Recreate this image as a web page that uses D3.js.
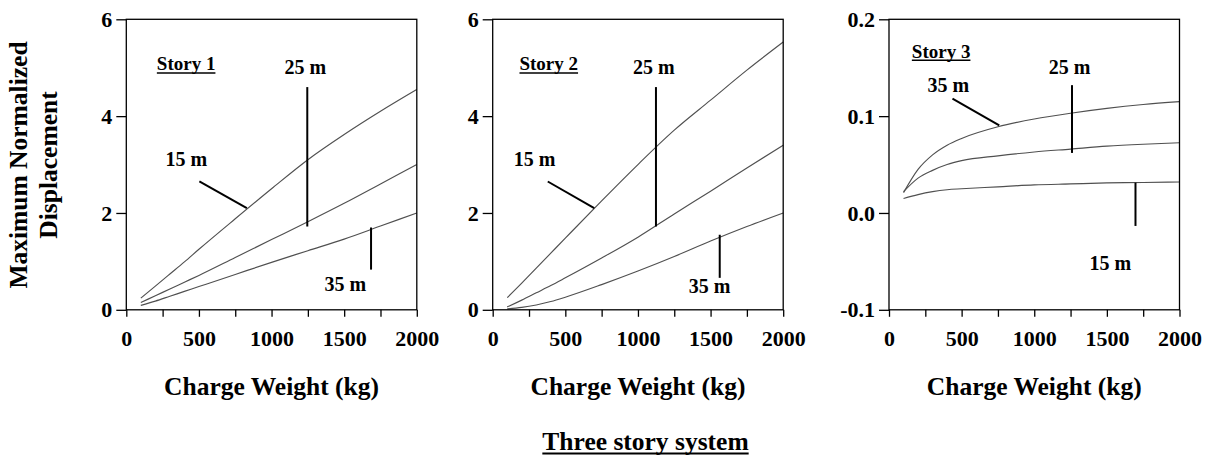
<!DOCTYPE html>
<html>
<head>
<meta charset="utf-8">
<script src="https://cdn.jsdelivr.net/npm/d3@7"></script>
<style>
  html, body { margin: 0; padding: 0; background: #fff; }
  svg text { font-family: "Liberation Serif", "Times New Roman", serif; font-weight: bold; fill: #000; }
</style>
</head>
<body>
<svg id="chart" width="1213" height="457"></svg>
<script>
// Charge weights (kg) at which the displacements are sampled
const chargeWeights = [100, 200, 300, 400, 500, 750, 1000, 1250, 1500, 1750, 2000];

// Maximum normalized displacement, story 1
const story1_15m = [0.24, 0.49, 0.74, 0.99, 1.25, 1.88, 2.50, 3.10, 3.62, 4.10, 4.55];
const story1_25m = [0.15, 0.29, 0.43, 0.57, 0.71, 1.08, 1.45, 1.82, 2.20, 2.60, 3.00];
const story1_35m = [0.09, 0.18, 0.28, 0.38, 0.48, 0.73, 0.98, 1.22, 1.46, 1.73, 2.00];

// Story 2
const story2_15m = [0.25, 0.55, 0.86, 1.17, 1.48, 2.25, 3.00, 3.71, 4.33, 4.95, 5.53];
const story2_25m = [0.06, 0.20, 0.35, 0.50, 0.66, 1.07, 1.50, 1.98, 2.45, 2.93, 3.40];
const story2_35m = [0.02, 0.05, 0.10, 0.17, 0.26, 0.52, 0.80, 1.10, 1.42, 1.72, 2.00];

// Story 3
const story3_15m = [0.015, 0.019, 0.022, 0.024, 0.025, 0.027, 0.029, 0.030, 0.031, 0.0315, 0.032];
const story3_25m = [0.022, 0.036, 0.044, 0.050, 0.054, 0.059, 0.063, 0.066, 0.069, 0.071, 0.0725];
const story3_35m = [0.021, 0.045, 0.060, 0.070, 0.077, 0.089, 0.097, 0.103, 0.108, 0.112, 0.115];

// Axis ticks
const xTickValues = [0, 250, 500, 750, 1000, 1250, 1500, 1750, 2000];
const xTickLabels = ["0", "", "500", "", "1000", "", "1500", "", "2000"];
const yTicks12 = [0, 2, 4, 6];
const yTickLabels12 = ["0", "2", "4", "6"];
const yTicks3 = [-0.1, 0.0, 0.1, 0.2];
const yTickLabels3 = ["-0.1", "0.0", "0.1", "0.2"];

// Panel titles and text
const panelTitles = ["Story 1", "Story 2", "Story 3"];
const xAxisTitle = "Charge Weight (kg)";
const yAxisTitle = ["Maximum Normalized", "Displacement"];
const figureTitle = "Three story system";

// Curve labels: [text, x, y] in data units (label anchor)
const labels1 = [["25 m", 1232, 4.88], ["15 m", 413, 2.97], ["35 m", 1508, 0.38]];
const labels2 = [["25 m", 1109, 4.88], ["15 m", 289, 2.97], ["35 m", 1493, 0.345]];
const labels3 = [["25 m", 1244, 0.1433], ["35 m", 409, 0.125], ["15 m", 1524, -0.0588]];

// Leader lines: [x1, y1, x2, y2] in data units
const leaders1 = [[503, 2.65, 830, 2.10], [1246, 4.60, 1246, 1.72], [1685, 1.70, 1685, 0.83]];
const leaders2 = [[379, 2.65, 699, 2.10], [1124, 4.60, 1124, 1.72], [1563, 1.55, 1563, 0.66]];
const leaders3 = [[437, 0.118, 759, 0.0904], [1260, 0.132, 1260, 0.062], [1697, 0.0313, 1697, -0.0134]];

// Story title anchors (data units)
const titlePos = [[412, 4.95], [386, 4.95], [359, 0.1605]];

const panels = [
  { series: [story1_15m, story1_25m, story1_35m], yDomain: [0, 6], yTicks: yTicks12, yLabels: yTickLabels12, labels: labels1, leaders: leaders1 },
  { series: [story2_15m, story2_25m, story2_35m], yDomain: [0, 6], yTicks: yTicks12, yLabels: yTickLabels12, labels: labels2, leaders: leaders2 },
  { series: [story3_15m, story3_25m, story3_35m], yDomain: [-0.1, 0.2], yTicks: yTicks3, yLabels: yTickLabels3, labels: labels3, leaders: leaders3 }
];

const svg = d3.select("#chart");
const panelLeft = [126.3, 492.7, 889];
const panelTop = 19.3;
const panelSize = 290.5;

panels.forEach((p, i) => {
  const g = svg.append("g").attr("transform", `translate(${panelLeft[i]},${panelTop})`);
  const x = d3.scaleLinear().domain([0, 2000]).range([0, panelSize]);
  const y = d3.scaleLinear().domain(p.yDomain).range([panelSize, 0]);

  // curves
  const line = d3.line()
    .x((d, k) => x(chargeWeights[k]))
    .y(d => y(d))
    .curve(d3.curveMonotoneX);
  p.series.forEach(s => {
    g.append("path").datum(s)
      .attr("d", line)
      .attr("fill", "none")
      .attr("stroke", "#505050")
      .attr("stroke-width", 1.15);
  });

  // frame
  g.append("rect")
    .attr("x", 0).attr("y", 0)
    .attr("width", panelSize).attr("height", panelSize)
    .attr("fill", "none").attr("stroke", "#000").attr("stroke-width", 1.3);

  // y axis
  const ya = g.append("g").call(
    d3.axisLeft(y).tickValues(p.yTicks).tickSize(10).tickSizeOuter(0).tickPadding(4)
      .tickFormat((d, k) => p.yLabels[k])
  );
  ya.select(".domain").remove();
  ya.selectAll("line").attr("stroke-width", 1.3);
  ya.selectAll("text").style("font-size", "22px");

  // x axis
  const xa = g.append("g").attr("transform", `translate(0,${panelSize})`).call(
    d3.axisBottom(x).tickValues(xTickValues).tickSize(7).tickSizeOuter(0).tickPadding(14)
      .tickFormat((d, k) => xTickLabels[k])
  );
  xa.select(".domain").remove();
  xa.selectAll("line").attr("stroke-width", 1.3);
  xa.selectAll("text").style("font-size", "22px");

  // leader lines
  p.leaders.forEach(l => {
    g.append("line")
      .attr("x1", x(l[0])).attr("y1", y(l[1]))
      .attr("x2", x(l[2])).attr("y2", y(l[3]))
      .attr("stroke", "#000").attr("stroke-width", 2);
  });

  // curve labels
  p.labels.forEach(l => {
    g.append("text")
      .attr("x", x(l[1])).attr("y", y(l[2]))
      .attr("text-anchor", "middle")
      .style("font-size", "20px")
      .text(l[0]);
  });

  // story title, underlined
  const tx = x(titlePos[i][0]), ty = y(titlePos[i][1]);
  const t = g.append("text")
    .attr("x", tx).attr("y", ty)
    .attr("text-anchor", "middle")
    .style("font-size", "19px")
    .text(panelTitles[i]);
  const tw = t.node().getComputedTextLength();
  g.append("line")
    .attr("x1", tx - tw / 2).attr("x2", tx + tw / 2)
    .attr("y1", ty + 2.8).attr("y2", ty + 2.8)
    .attr("stroke", "#000").attr("stroke-width", 1.5);

  // x axis title
  g.append("text")
    .attr("x", panelSize / 2).attr("y", 395 - panelTop)
    .attr("text-anchor", "middle")
    .style("font-size", "25.5px")
    .text(xAxisTitle);
});

// y axis title (two lines, rotated)
const yTitle = svg.append("g").attr("transform", "translate(0,165) rotate(-90)");
yAxisTitle.forEach((s, k) => {
  yTitle.append("text")
    .attr("x", 0).attr("y", 27 + k * 30)
    .attr("text-anchor", "middle")
    .style("font-size", "25.5px")
    .text(s);
});

// figure title, underlined
const ft = svg.append("text")
  .attr("x", 645.5).attr("y", 450)
  .attr("text-anchor", "middle")
  .style("font-size", "25.5px")
  .text(figureTitle);
const fw = ft.node().getComputedTextLength();
svg.append("line")
  .attr("x1", 645.5 - fw / 2).attr("x2", 645.5 + fw / 2)
  .attr("y1", 453.5).attr("y2", 453.5)
  .attr("stroke", "#000").attr("stroke-width", 2);
</script>
</body>
</html>
